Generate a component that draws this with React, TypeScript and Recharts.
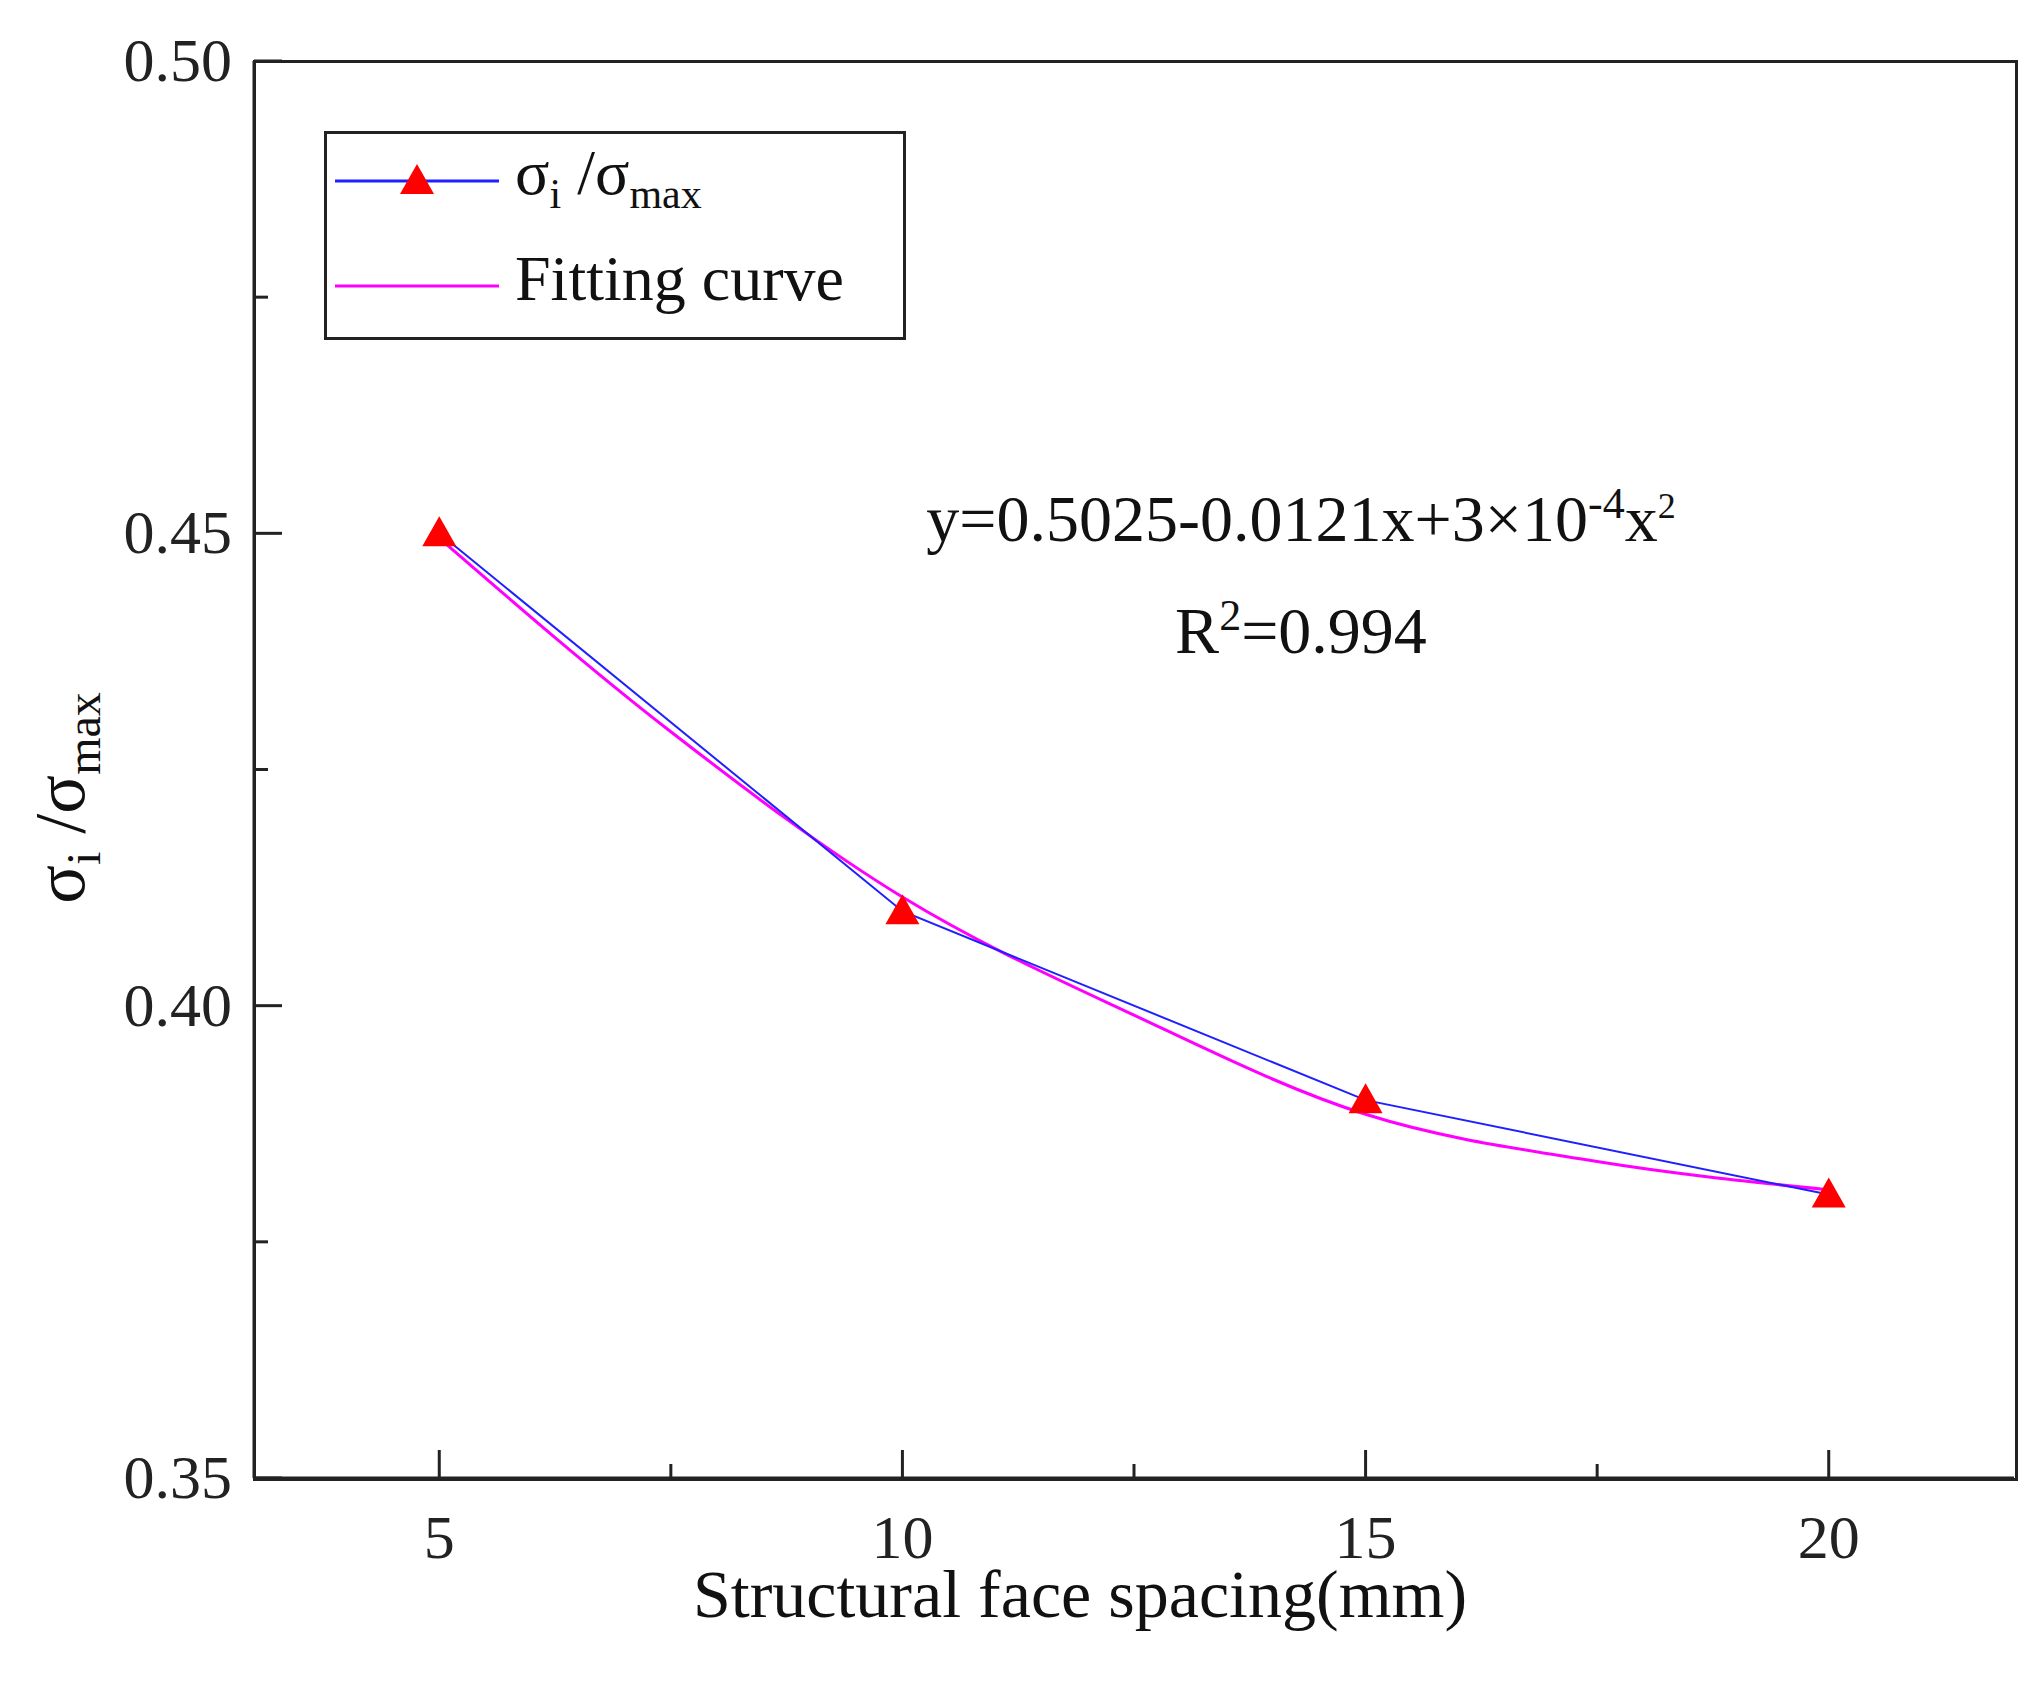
import { ComposedChart, Line, XAxis, YAxis } from 'recharts';

const xMeasured = [5, 10, 15, 20];
const ratio = [0.45, 0.41, 0.39, 0.38];
const xFit = [5, 7.5, 10, 12.5, 15, 17.5, 20];
const fitValues = [0.4495, 0.429, 0.4115, 0.399, 0.3885, 0.3835, 0.3805];
const xTicks = [5, 7.5, 10, 12.5, 15, 17.5, 20];
const yTicks = [0.35, 0.375, 0.4, 0.425, 0.45, 0.475, 0.5];

const measured = xMeasured.map((x, i) => ({ x, ratio: ratio[i] }));
const fit = xFit.map((x, i) => ({ x, fit: fitValues[i] }));

const font = '"Liberation Serif", "Times New Roman", serif';

function Triangle(props: any) {
  const { cx, cy } = props;
  if (cx == null || cy == null) return null;
  return <path d={`M${cx},${cy - 17} L${cx + 17},${cy + 13} L${cx - 17},${cy + 13} Z`} fill="#ff0000" />;
}

function XTick(props: any) {
  const { x, y, payload } = props;
  const major = Number.isInteger(payload.value);
  return (
    <g>
      <line x1={x} x2={x} y1={y} y2={y - (major ? 28 : 14)} stroke="#222" strokeWidth={3} />
      {major && (
        <text x={x} y={y + 80} textAnchor="middle" fontSize={62} fontFamily={font} fill="#222">
          {payload.value}
        </text>
      )}
    </g>
  );
}

function YTick(props: any) {
  const { x, y, payload } = props;
  const v = payload.value;
  const major = Math.abs((v * 100) % 5) < 0.01 || Math.abs((v * 100) % 5 - 5) < 0.01;
  return (
    <g>
      <line x1={x} x2={x + (major ? 28 : 14)} y1={y} y2={y} stroke="#222" strokeWidth={3} />
      {major && (
        <text x={x - 22} y={y + 20} textAnchor="end" fontSize={62} fontFamily={font} fill="#222">
          {v.toFixed(2)}
        </text>
      )}
    </g>
  );
}

export default function App() {
  return (
    <div style={{ position: 'absolute', left: 0, top: 0, width: 2041, height: 1687, background: '#fff' }}>
      <ComposedChart width={2041} height={1687} margin={{ top: 61, right: 27, bottom: 129, left: 154 }}>
        <XAxis xAxisId="b" dataKey="x" type="number" domain={[3, 22]} ticks={xTicks} allowDataOverflow
          height={80} tickSize={0} tickMargin={0} tickLine={false} tick={<XTick />}
          axisLine={{ stroke: '#222', strokeWidth: 3 }} />
        <YAxis yAxisId="l" type="number" domain={[0.35, 0.5]} ticks={yTicks} width={100} allowDataOverflow
          tickSize={0} tickMargin={0} tickLine={false} tick={<YTick />}
          axisLine={{ stroke: '#222', strokeWidth: 3 }} />
        <Line xAxisId="b" yAxisId="l" data={fit} dataKey="fit" type="monotone" stroke="#ff00ff"
          strokeWidth={3} dot={false} isAnimationActive={false} />
        <Line xAxisId="b" yAxisId="l" data={measured} dataKey="ratio" type="linear" stroke="#2020ff"
          strokeWidth={2} dot={<Triangle />} isAnimationActive={false} />
      </ComposedChart>

      <div style={{ position: 'absolute', left: 253, top: 60, width: 1759, height: 1415, border: '3px solid #222', pointerEvents: 'none' }} />

      <div style={{ position: 'absolute', left: 324, top: 131, width: 576, height: 203, border: '3px solid #222', fontFamily: font, fontSize: 64, color: '#111', background: '#fff' }}>
        <svg width={200} height={200} style={{ position: 'absolute', left: 0, top: 0 }}>
          <line x1={8} x2={172} y1={47} y2={47} stroke="#2020ff" strokeWidth={3} />
          <path d="M90,30 L107,60 L73,60 Z" fill="#ff0000" />
          <line x1={8} x2={172} y1={152} y2={152} stroke="#ff00ff" strokeWidth={3} />
        </svg>
        <div style={{ position: 'absolute', left: 188, top: 2 }}>
          σ<sub style={{ fontSize: 42 }}>i</sub> /σ<sub style={{ fontSize: 42 }}>max</sub>
        </div>
        <div style={{ position: 'absolute', left: 188, top: 108 }}>Fitting curve</div>
      </div>

      <div style={{ position: 'absolute', left: 1301, top: 478, transform: 'translateX(-50%)', whiteSpace: 'nowrap', fontFamily: font, fontSize: 66, color: '#111' }}>
        y=0.5025-0.0121x+3×10<sup style={{ fontSize: 44 }}>-4</sup>x<sup style={{ fontSize: 36 }}>2</sup>
      </div>
      <div style={{ position: 'absolute', left: 1301, top: 590, transform: 'translateX(-50%)', whiteSpace: 'nowrap', fontFamily: font, fontSize: 66, color: '#111' }}>
        R<sup style={{ fontSize: 44 }}>2</sup>=0.994
      </div>

      <div style={{ position: 'absolute', left: 1080, top: 1555, transform: 'translateX(-50%)', whiteSpace: 'nowrap', fontFamily: font, fontSize: 68, color: '#111' }}>
        Structural face spacing(mm)
      </div>
      <div style={{ position: 'absolute', left: 65, top: 798, transform: 'translate(-50%, -50%) rotate(-90deg)', whiteSpace: 'nowrap', fontFamily: font, fontSize: 72, color: '#111' }}>
        σ<sub style={{ fontSize: 48 }}>i</sub> /σ<sub style={{ fontSize: 48 }}>max</sub>
      </div>
    </div>
  );
}
